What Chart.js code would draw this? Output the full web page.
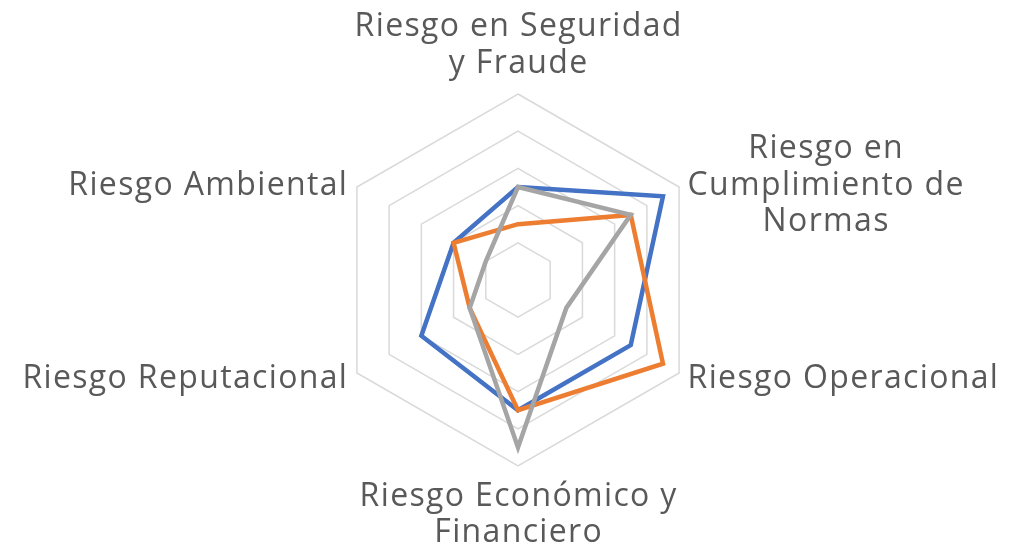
<!DOCTYPE html>
<html>
<head>
<meta charset="utf-8">
<script src="https://cdn.jsdelivr.net/npm/chart.js@4/dist/chart.umd.min.js"></script>
<style>
html,body{margin:0;padding:0;background:#fff;}
#wrap{width:1017px;height:548px;position:relative;}
</style>
</head>
<body>
<div id="wrap"><canvas id="c"></canvas></div>
<script>
const categories = [
  ["Riesgo en Seguridad", "y Fraude"],
  ["Riesgo en", "Cumplimiento de", "Normas"],
  ["Riesgo Operacional"],
  ["Riesgo Económico y", "Financiero"],
  ["Riesgo Reputacional"],
  ["Riesgo Ambiental"]
];
const seriesBlue   = [2.5, 4.5, 3.5, 3.5, 3, 2];
const seriesOrange = [1.5, 3.5, 4.5, 3.5, 1.5, 2];
const seriesGray   = [2.5, 3.5, 1.5, 4.5, 1.5, 1];
const scaleMin = 0, scaleMax = 5, scaleStep = 1;

// Draws the category labels centred line-by-line around each axis end.
const labelPlugin = {
  id: 'centredPointLabels',
  afterDraw(chart) {
    const scale = chart.scales.r;
    const ctx = chart.ctx;
    const size = 32, L = 36.7, capH = 0.714 * size, ls = 1.35;
    ctx.save();
    ctx.font = size + 'px "Open Sans"';
    ctx.letterSpacing = ls + 'px';
    ctx.fillStyle = '#595959';
    ctx.textAlign = 'left';
    ctx.textBaseline = 'alphabetic';
    const cx = scale.xCenter, cy = scale.yCenter;
    scale._pointLabels.forEach((lab, i) => {
      const lines = Array.isArray(lab) ? lab : [lab];
      const p = scale.getPointPosition(i, scale.drawingArea);
      const widths = lines.map(t => ctx.measureText(t).width - ls);
      const blockW = Math.max(...widths);
      const dx = p.x - cx;
      let blockCx, baselines = [];
      if (Math.abs(dx) < 1) {
        blockCx = p.x;
        if (p.y < cy) {
          const last = p.y - 21.3;
          lines.forEach((t, k) => baselines.push(last - (lines.length - 1 - k) * L));
        } else {
          const first = p.y + 39.5;
          lines.forEach((t, k) => baselines.push(first + k * L));
        }
      } else {
        blockCx = dx > 0 ? p.x + 8.5 + blockW / 2 : p.x - 10 - blockW / 2;
        const c = p.y + (p.y < cy ? -3.7 : 3.7);
        const first = c - (lines.length - 1) * L / 2 + capH / 2;
        lines.forEach((t, k) => baselines.push(first + k * L));
      }
      lines.forEach((t, k) => {
        ctx.fillText(t, blockCx - widths[k] / 2, baselines[k]);
      });
    });
    ctx.restore();
  }
};

new Chart(document.getElementById('c'), {
  type: 'radar',
  data: {
    labels: categories,
    datasets: [
      {label: 'Serie 1', data: seriesBlue, borderColor: '#4472C4', backgroundColor: 'transparent', borderWidth: 4.5, pointRadius: 0, fill: false, order: 3},
      {label: 'Serie 2', data: seriesOrange, borderColor: '#ED7D31', backgroundColor: 'transparent', borderWidth: 4.5, pointRadius: 0, fill: false, order: 2},
      {label: 'Serie 3', data: seriesGray, borderColor: '#A5A5A5', backgroundColor: 'transparent', borderWidth: 4.5, pointRadius: 0, fill: false, order: 1}
    ]
  },
  options: {
    responsive: true,
    maintainAspectRatio: false,
    animation: false,
    elements: {line: {tension: 0}},
    plugins: {legend: {display: false}, tooltip: {enabled: false}},
    layout: {padding: {top: 94, bottom: 81, left: 20, right: 0}},
    scales: {
      r: {
        min: scaleMin, max: scaleMax,
        ticks: {stepSize: scaleStep, display: false},
        grid: {color: '#D9D9D9', lineWidth: 1.5},
        angleLines: {display: false},
        pointLabels: {display: false}
      }
    }
  },
  plugins: [labelPlugin]
});
</script>
</body>
</html>
